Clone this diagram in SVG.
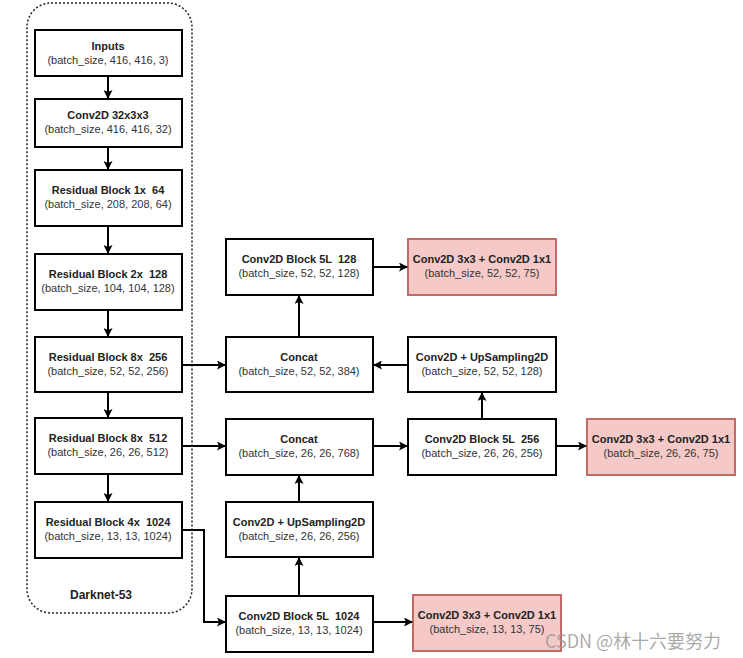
<svg xmlns="http://www.w3.org/2000/svg" width="743" height="658" viewBox="0 0 743 658">
<style>
.box{fill:#fff;stroke:#000;stroke-width:2}
.red{fill:#f5c9c7;stroke:#c46a66;stroke-width:2}
.t{font-family:"Liberation Sans",Arial,sans-serif;font-size:11px;font-weight:bold;text-anchor:middle;fill:#222;white-space:pre}
.s{font-family:"Liberation Sans",Arial,sans-serif;font-size:11px;text-anchor:middle;fill:#333}
.c{fill:none;stroke:#000;stroke-width:2;marker-end:url(#ah)}
</style>
<defs>
<marker id="ah" markerWidth="9" markerHeight="9" refX="8" refY="4.5" orient="auto" markerUnits="userSpaceOnUse">
<path d="M0,0 L9,4.5 L0,9 L2,4.5 Z" fill="#000"/>
</marker>
</defs>
<rect width="743" height="658" fill="#fff"/>
<g id="darknet">
<rect x="27" y="3" width="165" height="610" rx="24" ry="24" fill="none" stroke="#222" stroke-width="1.5" stroke-dasharray="2 2"/>
<text x="101" y="599" class="t" style="font-size:12px">Darknet-53</text>
</g>
<g id="inputs"><rect class="box" x="35" y="30" width="147" height="46"/><text class="t" x="108" y="50">Inputs</text><text class="s" x="108" y="64">(batch_size, 416, 416, 3)</text></g>
<g id="conv32"><rect class="box" x="35" y="99" width="147" height="48"/><text class="t" x="108" y="119">Conv2D 32x3x3</text><text class="s" x="108" y="133">(batch_size, 416, 416, 32)</text></g>
<g id="res1"><rect class="box" x="35" y="170" width="147" height="56"/><text class="t" x="108" y="194" xml:space="preserve">Residual Block 1x  64</text><text class="s" x="108" y="208">(batch_size, 208, 208, 64)</text></g>
<g id="res2"><rect class="box" x="35" y="254" width="147" height="56"/><text class="t" x="108" y="278" xml:space="preserve">Residual Block 2x  128</text><text class="s" x="108" y="292">(batch_size, 104, 104, 128)</text></g>
<g id="res8a"><rect class="box" x="35" y="337" width="147" height="55"/><text class="t" x="108" y="361" xml:space="preserve">Residual Block 8x  256</text><text class="s" x="108" y="375">(batch_size, 52, 52, 256)</text></g>
<g id="res8b"><rect class="box" x="35" y="418" width="147" height="56"/><text class="t" x="108" y="442" xml:space="preserve">Residual Block 8x  512</text><text class="s" x="108" y="456">(batch_size, 26, 26, 512)</text></g>
<g id="res4"><rect class="box" x="35" y="502" width="147" height="56"/><text class="t" x="108" y="526" xml:space="preserve">Residual Block 4x  1024</text><text class="s" x="108" y="540">(batch_size, 13, 13, 1024)</text></g>

<g id="block128"><rect class="box" x="226" y="239" width="147" height="56"/><text class="t" x="299" y="263" xml:space="preserve">Conv2D Block 5L  128</text><text class="s" x="299" y="277">(batch_size, 52, 52, 128)</text></g>
<g id="concat384"><rect class="box" x="226" y="337" width="147" height="55"/><text class="t" x="299" y="361">Concat</text><text class="s" x="299" y="375">(batch_size, 52, 52, 384)</text></g>
<g id="concat768"><rect class="box" x="226" y="419" width="147" height="56"/><text class="t" x="299" y="443">Concat</text><text class="s" x="299" y="457">(batch_size, 26, 26, 768)</text></g>
<g id="up256"><rect class="box" x="226" y="502" width="147" height="55"/><text class="t" x="299" y="526">Conv2D + UpSampling2D</text><text class="s" x="299" y="540">(batch_size, 26, 26, 256)</text></g>
<g id="block1024"><rect class="box" x="226" y="596" width="147" height="56"/><text class="t" x="299" y="620" xml:space="preserve">Conv2D Block 5L  1024</text><text class="s" x="299" y="634">(batch_size, 13, 13, 1024)</text></g>

<g id="out52"><rect class="red" x="408" y="239" width="148" height="56"/><text class="t" x="482" y="263">Conv2D 3x3 + Conv2D 1x1</text><text class="s" x="482" y="277">(batch_size, 52, 52, 75)</text></g>
<g id="up128"><rect class="box" x="408" y="337" width="148" height="55"/><text class="t" x="482" y="361">Conv2D + UpSampling2D</text><text class="s" x="482" y="375">(batch_size, 52, 52, 128)</text></g>
<g id="block256"><rect class="box" x="408" y="419" width="148" height="56"/><text class="t" x="482" y="443" xml:space="preserve">Conv2D Block 5L  256</text><text class="s" x="482" y="457">(batch_size, 26, 26, 256)</text></g>
<g id="out26"><rect class="red" x="587" y="419" width="148" height="56"/><text class="t" x="661" y="443">Conv2D 3x3 + Conv2D 1x1</text><text class="s" x="661" y="457">(batch_size, 26, 26, 75)</text></g>
<g id="out13"><rect class="red" x="413" y="595" width="148" height="56"/><text class="t" x="487" y="619">Conv2D 3x3 + Conv2D 1x1</text><text class="s" x="487" y="633">(batch_size, 13, 13, 75)</text></g>

<g id="connectors">
<path class="c" d="M108,76 V98"/>
<path class="c" d="M108,147 V169"/>
<path class="c" d="M108,226 V253"/>
<path class="c" d="M108,310 V336"/>
<path class="c" d="M108,392 V417"/>
<path class="c" d="M108,474 V501"/>
<path class="c" d="M182,365 H225"/>
<path class="c" d="M182,446 H225"/>
<path class="c" d="M182,530 H204 V622 H225"/>
<path class="c" d="M299,337 V296"/>
<path class="c" d="M373,267 H407"/>
<path class="c" d="M408,365 H374"/>
<path class="c" d="M482,419 V393"/>
<path class="c" d="M373,446 H407"/>
<path class="c" d="M556,446 H586"/>
<path class="c" d="M299,502 V476"/>
<path class="c" d="M299,596 V558"/>
<path class="c" d="M373,622 H412"/>
</g>
<text x="633" y="648" style="font-family:'Noto Sans CJK SC','Liberation Sans',sans-serif;font-size:18px;fill:#9a9a9a;fill-opacity:0.85;text-anchor:middle">CSDN @林十六要努力</text>
</svg>
